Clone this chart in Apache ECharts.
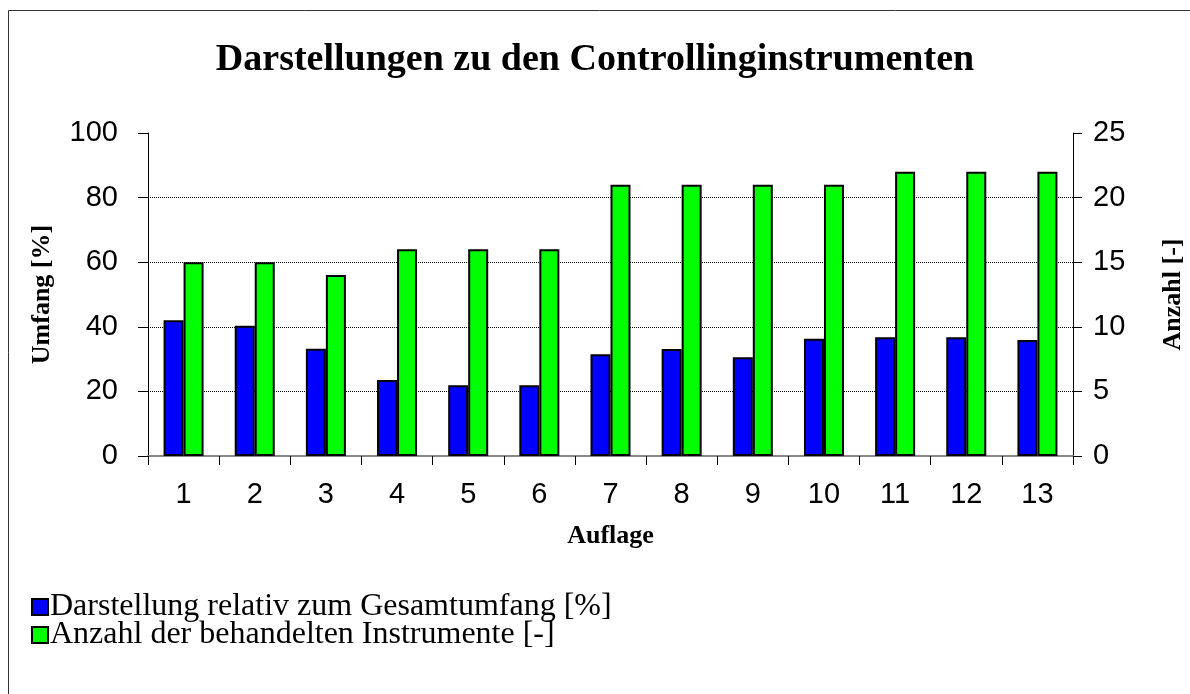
<!DOCTYPE html>
<html>
<head>
<meta charset="utf-8">
<script src="https://cdn.jsdelivr.net/npm/echarts@6/dist/echarts.min.js"></script>
<style>html,body{margin:0;padding:0;background:#fff;}#c{width:1190px;height:694px;}</style>
</head>
<body>
<div id="c"></div>
<script>
const categories = ['1','2','3','4','5','6','7','8','9','10','11','12','13'];
const umfang = [42, 40.3, 33.2, 23.5, 21.9, 21.9, 31.5, 33.1, 30.6, 36.3, 36.8, 36.8, 35.9];
const anzahl = [15, 15, 14, 16, 16, 16, 21, 21, 21, 21, 22, 22, 22];
const leftTicks = [0, 20, 40, 60, 80, 100];
const rightTicks = [0, 5, 10, 15, 20, 25];

const chart = echarts.init(document.getElementById('c'), null, {renderer: 'canvas'});
const serif = '"Liberation Serif", "Times New Roman", serif';
const sans = '"Liberation Sans", Arial, sans-serif';
chart.setOption({
  backgroundColor: '#fff',
  animation: false,
  title: {
    text: 'Darstellungen zu den Controllinginstrumenten',
    left: 'center', top: 36,
    textStyle: {fontFamily: serif, fontWeight: 'bold', fontSize: 38, color: '#000'}
  },
  graphic: [{
    type: 'rect', shape: {x: 8.5, y: 10.5, width: 1300, height: 800},
    style: {fill: 'none', stroke: '#333', lineWidth: 1}, silent: true, z: -1
  }],
  legend: {
    orient: 'vertical', left: 26, top: 586,
    icon: 'rect',
    itemWidth: 16, itemHeight: 16, itemGap: -4,
    itemStyle: {borderColor: '#000', borderWidth: 2},
    textStyle: {fontFamily: serif, fontSize: 32, color: '#000', padding: [0,0,0,-3]},
    data: ['Darstellung relativ zum Gesamtumfang [%]', 'Anzahl der behandelten Instrumente [-]']
  },
  grid: {left: 148, right: 117, top: 133, bottom: 238, containLabel: false, outerBoundsMode: 'none'},
  xAxis: [{
    type: 'category', data: categories,
    name: 'Auflage', nameLocation: 'middle', nameGap: 67,
    nameTextStyle: {fontFamily: serif, fontWeight: 'bold', fontSize: 26, color: '#000'},
    axisLine: {lineStyle: {color: '#000', width: 1}},
    axisTick: {show: true, inside: false, length: 9, alignWithLabel: false, lineStyle: {color: '#000'}},
    axisLabel: {fontFamily: sans, fontSize: 29, color: '#000', margin: 24}
  }, {
    type: 'category', data: categories, position: 'top',
    axisLine: {lineStyle: {color: '#888', width: 2}},
    axisTick: {show: false}, axisLabel: {show: false}
  }],
  yAxis: [{
    type: 'value', min: 0, max: 100, interval: 20,
    name: 'Umfang [%]', nameLocation: 'middle', nameGap: 93, nameRotate: 90,
    nameTextStyle: {fontFamily: serif, fontWeight: 'bold', fontSize: 26, color: '#000'},
    axisLine: {show: true, lineStyle: {color: '#000', width: 1}},
    axisTick: {show: true, length: 10, lineStyle: {color: '#000'}},
    axisLabel: {fontFamily: sans, fontSize: 29, color: '#000', margin: 30,
      formatter: v => leftTicks.includes(v) ? String(v) : ''},
    splitLine: {show: true, lineStyle: {type: 'dotted', color: ['transparent','#000','#000','#000','#000','transparent'], width: 1}}
  }, {
    type: 'value', min: 0, max: 25, interval: 5, position: 'right',
    name: 'Anzahl [-]', nameLocation: 'middle', nameGap: 87, nameRotate: 90,
    nameTextStyle: {fontFamily: serif, fontWeight: 'bold', fontSize: 26, color: '#000'},
    axisLine: {show: true, lineStyle: {color: '#000', width: 1}},
    axisTick: {show: true, length: 9, lineStyle: {color: '#000'}},
    axisLabel: {fontFamily: sans, fontSize: 29, color: '#000', margin: 20,
      formatter: v => rightTicks.includes(v) ? String(v) : ''},
    splitLine: {show: false}
  }],
  series: [{
    name: 'Darstellung relativ zum Gesamtumfang [%]', type: 'bar',
    data: umfang, yAxisIndex: 0, barWidth: 20, barGap: '0%',
    itemStyle: {color: '#0000ff', borderColor: '#000', borderWidth: 2}
  }, {
    name: 'Anzahl der behandelten Instrumente [-]', type: 'bar',
    data: anzahl, yAxisIndex: 1, barWidth: 20, barGap: '0%',
    itemStyle: {color: '#00ff00', borderColor: '#000', borderWidth: 2}
  }]
});
</script>
</body>
</html>
